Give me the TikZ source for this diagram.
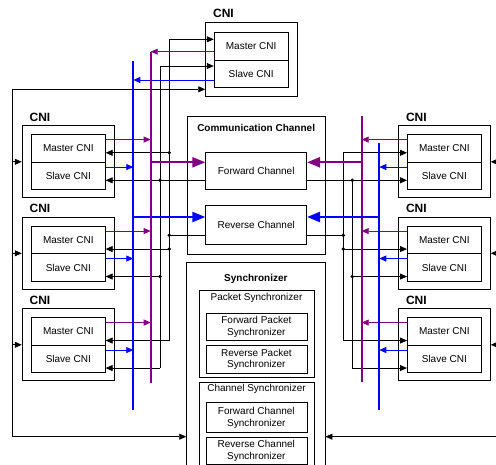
\documentclass[tikz,border=0pt]{standalone}
\usepackage{fontspec}
\setmainfont{Liberation Sans}
\usetikzlibrary{arrows.meta,positioning}

\definecolor{buspurple}{RGB}{128,0,128}
\definecolor{busblue}{RGB}{0,0,255}

\tikzset{
	cni/.style={draw, line width=0.9pt, minimum width=92pt, minimum height=72pt, inner sep=0pt},
	half/.style={draw, line width=0.7pt, minimum width=74pt, minimum height=27.5pt, inner sep=0pt},
	unit/.style={draw, line width=0.7pt, minimum width=101pt, inner sep=0pt, align=center},
	frame/.style={draw, line width=0.9pt, inner sep=0pt},
	cnilabel/.style={anchor=south west, inner sep=0pt, font=\bfseries\fontsize{12}{14}\selectfont},
	heading/.style={anchor=north, inner sep=0pt, font=\bfseries\fontsize{10}{12}\selectfont},
	plain/.style={line width=0.8pt},
	wire/.style={plain, -{Triangle[length=7pt, width=6pt]}},
	pwire/.style={wire, color=buspurple},
	bwire/.style={wire, color=busblue},
	pbus/.style={line width=2.2pt, color=buspurple},
	bbus/.style={line width=2.2pt, color=busblue},
	feed/.style={line width=2.2pt, -{Triangle[length=13pt, width=10pt]}},
	joint/.style={circle, fill, inner sep=0pt, minimum size=3.8pt},
}

\begin{document}
\begin{tikzpicture}[x=1pt, y=-1pt, font=\fontsize{10}{11.7}\selectfont]
\useasboundingbox (0,0) rectangle (496,465);

% communication channel
\node[frame, minimum width=137.7pt, minimum height=138pt] (Chan) at (256.15, 185) {};
\node[heading] at ([yshift=-9pt]Chan.north) {Communication Channel};
\node[unit, minimum height=36.6pt] (Fwd) at (256.2, 171) {Forward Channel};
\node[unit, minimum height=38.6pt] (Rev) at (256.2, 225) {Reverse Channel};

% synchronizer
\node[frame, minimum width=138.3pt, minimum height=220pt] (Sync) at (255.85, 372.7) {};
\node[heading] at ([yshift=-11.5pt]Sync.north) {Synchronizer};
\node[draw, line width=0.7pt, minimum width=115pt, minimum height=87pt] (PSync) at (256.5, 334.2) {};
\node[anchor=north, inner sep=3pt] at (PSync.north) {Packet Synchronizer};
\node[unit, minimum height=27.4pt] (FPSync) at (256.35, 327) {Forward Packet\\Synchronizer};
\node[unit, minimum height=27.6pt] (RPSync) at (256.35, 359.5) {Reverse Packet\\Synchronizer};
\node[draw, line width=0.7pt, minimum width=115pt, minimum height=100pt] (CSync) at (256.5, 432.7) {};
\node[anchor=north, inner sep=1.5pt] at (CSync.north) {Channel Synchronizer};
\node[unit, minimum height=30pt] (FCSync) at (256.35, 417.7) {Forward Channel\\Synchronizer};
\node[unit, minimum height=27pt] (RCSync) at (256.35, 450.8) {Reverse Channel\\Synchronizer};

\coordinate (FwdInL) at ([yshift=8.7pt]Fwd.west);
\coordinate (FwdInR) at ([yshift=8.7pt]Fwd.east);
\coordinate (FwdOutL) at ([yshift=-9.3pt]Fwd.west);
\coordinate (FwdOutR) at ([yshift=-9.3pt]Fwd.east);
\coordinate (RevInL) at ([yshift=8pt]Rev.west);
\coordinate (RevInR) at ([yshift=8pt]Rev.east);
\coordinate (RevOutL) at ([yshift=-10.3pt]Rev.west);
\coordinate (RevOutR) at ([yshift=-10.3pt]Rev.east);

% top CNI
\node[cni, minimum height=73.3pt] (TO) at (251.7, 59.35) {};
\node[cnilabel] at ([xshift=7.7pt, yshift=4pt]TO.north west) {CNI};
\node[half] (TM) at (251.15, 46.25) {Master CNI};
\node[half] (TS) at (251.15, 73.75) {Slave CNI};

% bus ends
\coordinate (lbtop) at (133.3, 61);
\coordinate (lbbot) at (133.3, 410);
\coordinate (lptop) at (150.7, 51.7);
\coordinate (lpbot) at (150.7, 382.7);
\coordinate (lmtop) at (169.3, 39.3);
\coordinate (lstop) at (160, 66);
\coordinate (TBo) at (133.3, 80);
\coordinate (rbtop) at (379.3, 143.3);
\coordinate (rbbot) at (379.3, 410);
\coordinate (rptop) at (361.7, 116);
\coordinate (rpbot) at (361.7, 381.7);
\coordinate (rmx) at (343.3, 0);
\coordinate (rsx) at (352.3, 0);
\coordinate (lsync) at (12.7, 89.3);
\coordinate (lsyncbot) at (12.7, 436.7);
\coordinate (rsynctop) at (498, 150);
\coordinate (rsyncbot) at (498, 436.7);

% left CNIs
\foreach \y/\d [count=\i] in {125.8/4.25pt, 217.3/9pt, 308.8/9pt} {
	\node[cni] (LO\i) at (68.2, \y+36) {};
	\node[cnilabel] at ([xshift=7.7pt, yshift=4pt]LO\i.north west) {CNI};
	\node[half] (LM\i) at (68.3, \y+22.75) {Master CNI};
	\node[half] (LS\i) at (68.3, \y+50.25) {Slave CNI};

	\coordinate (LPo\i) at ([yshift=9pt]LM\i.east);
	\coordinate (LMi\i) at ([yshift=-\d]LM\i.east);
	\coordinate (LBo\i) at ([yshift=9pt]LS\i.east);
	\coordinate (LSi\i) at ([yshift=-\d]LS\i.east);

	\draw[pwire] (LPo\i) -- (LPo\i -| lptop);
	\draw[bwire] (LBo\i) -- (LBo\i -| lbtop);
	\draw[wire] (LMi\i -| lmtop) -- (LMi\i);
	\draw[wire] (LSi\i -| lstop) -- (LSi\i);
	\draw[wire] (LO\i.west -| lsync) -- (LO\i.west);
}

% right CNIs
\foreach \y/\d [count=\i] in {125.8/4.25pt, 217.3/9pt, 308.8/9pt} {
	\node[cni] (RO\i) at (444.3, \y+36) {};
	\node[cnilabel] at ([xshift=8pt, yshift=4pt]RO\i.north west) {CNI};
	\node[half] (RM\i) at (444.35, \y+22.75) {Master CNI};
	\node[half] (RS\i) at (444.35, \y+50.25) {Slave CNI};

	\coordinate (RPo\i) at ([yshift=9pt]RM\i.west);
	\coordinate (RMi\i) at ([yshift=-\d]RM\i.west);
	\coordinate (RBo\i) at ([yshift=9pt]RS\i.west);
	\coordinate (RSi\i) at ([yshift=-\d]RS\i.west);

	\draw[pwire] (RPo\i) -- (RPo\i -| rptop);
	\draw[bwire] (RBo\i) -- (RBo\i -| rbtop);
	\draw[wire] (RMi\i -| rmx) -- (RMi\i);
	\draw[wire] (RSi\i -| rsx) -- (RSi\i);
	\draw[wire] (RO\i.east -| rsynctop) -- (RO\i.east);
}

% top CNI wires
\draw[wire] (LMi3 -| lmtop) -- (lmtop) -- (lmtop -| TM.west);
\draw[wire] (LSi3 -| lstop) -- (lstop) -- (lstop -| TS.west);
\draw[pwire] (lptop -| TM.west) -- (lptop);
\draw[bwire] (TBo -| TS.west) -- (TBo);

% channel outputs
\draw[plain] (FwdOutL) -- (FwdOutL -| lstop);
\draw[plain] (RevOutL) -- (RevOutL -| lmtop);
\draw[plain] (FwdOutR) -- (FwdOutR -| rsx);
\draw[plain] (RevOutR) -- (RevOutR -| rmx);
\draw[plain] (RMi1 -| rmx) -- (RMi3 -| rmx);
\draw[plain] (RSi1 -| rsx) -- (RSi3 -| rsx);

\node[joint] at (LMi1 -| lmtop) {};
\node[joint] at (LMi2 -| lmtop) {};
\node[joint] at (RevOutL -| lmtop) {};
\node[joint] at (FwdOutL -| lstop) {};
\node[joint] at (LSi2 -| lstop) {};
\node[joint] at (RMi2 -| rmx) {};
\node[joint] at (RevOutR -| rmx) {};
\node[joint] at (FwdOutR -| rsx) {};
\node[joint] at (RSi2 -| rsx) {};

% buses
\draw[bbus] (lbtop) -- (lbbot);
\draw[pbus] (lptop) -- (lpbot);
\draw[bbus] (rbtop) -- (rbbot);
\draw[pbus] (rptop) -- (rpbot);

\draw[feed, color=buspurple] (FwdInL -| lptop) -- (FwdInL);
\draw[feed, color=busblue] (RevInL -| lbtop) -- (RevInL);
\draw[feed, color=buspurple] (FwdInR -| rptop) -- (FwdInR);
\draw[feed, color=busblue] (RevInR -| rbtop) -- (RevInR);

% synchronizer wires
\draw[wire] (lsync) -- (lsync -| TO.west);
\draw[wire] (lsync) -- (lsyncbot) -- (lsyncbot -| Sync.west);
\draw[plain] (rsynctop) -- (rsyncbot);
\draw[wire] (rsyncbot) -- (rsyncbot -| Sync.east);

\end{tikzpicture}
\end{document}
